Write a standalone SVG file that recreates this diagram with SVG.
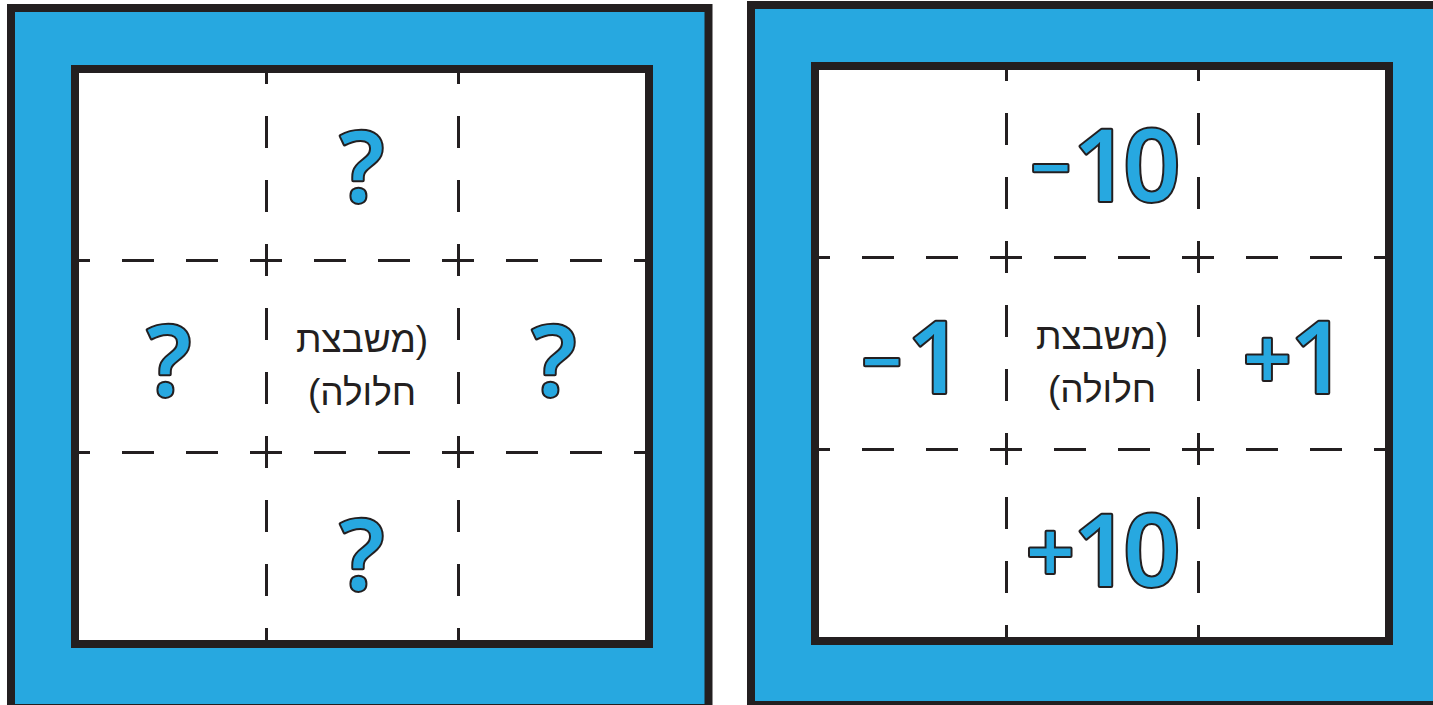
<svg xmlns="http://www.w3.org/2000/svg" width="1433" height="705" viewBox="0 0 1433 705">
<style>
.frame{fill:#27a8e0;stroke:#231f20;stroke-width:8}
.board{fill:none;stroke:#231f20;stroke-width:8}
.dash{stroke:#231f20;stroke-width:3;stroke-dasharray:32 32;stroke-dashoffset:17;fill:none}
.heb{font-family:"Liberation Sans","DejaVu Sans",sans-serif;font-size:37px;fill:#231f20;text-anchor:middle}
.sym{font-family:"Open Sans","Liberation Sans",sans-serif;font-weight:600;font-size:100px;fill:#27a8e0;stroke:#231f20;stroke-width:4;stroke-linejoin:round;paint-order:stroke}
.q{font-size:98px;text-anchor:middle}
</style>
<rect width="1433" height="705" fill="#ffffff"/>
<g id="panel-left">
  <rect class="frame" x="11" y="8" width="697.5" height="700"/>
  <rect x="75" y="69" width="574" height="575" fill="#ffffff"/>
  <g id="grid-left">
    <line class="dash" x1="75" y1="260.5" x2="649" y2="260.5"/>
    <line class="dash" x1="75" y1="452.5" x2="649" y2="452.5"/>
    <line class="dash" x1="266.5" y1="69" x2="266.5" y2="644"/>
    <line class="dash" x1="458.5" y1="69" x2="458.5" y2="644"/>
  </g>
  <rect class="board" x="75" y="69" width="574" height="575"/>
  <g id="left-top"><text class="sym q" x="362" y="202">?</text></g>
  <g id="left-left"><text class="sym q" x="169" y="396">?</text></g>
  <g id="left-right"><text class="sym q" x="554" y="396">?</text></g>
  <g id="left-bottom"><text class="sym q" x="362" y="590">?</text></g>
  <g id="left-center">
    <text class="heb" x="362" y="352" direction="rtl">(משבצת</text>
    <text class="heb" x="362" y="405" direction="rtl">חלולה)</text>
  </g>
</g>
<g id="panel-right">
  <rect class="frame" x="751" y="5" width="697.5" height="700"/>
  <rect x="815" y="66" width="574" height="575" fill="#ffffff"/>
  <g id="grid-right">
    <line class="dash" x1="815" y1="257.5" x2="1389" y2="257.5"/>
    <line class="dash" x1="815" y1="449.5" x2="1389" y2="449.5"/>
    <line class="dash" x1="1006.5" y1="66" x2="1006.5" y2="641"/>
    <line class="dash" x1="1198.5" y1="66" x2="1198.5" y2="641"/>
  </g>
  <rect class="board" x="815" y="66" width="574" height="575"/>
  <g id="right-top"><text class="sym" x="1031" y="201"><tspan font-size="70" dy="-8">−</tspan><tspan x="1073" dy="8" letter-spacing="-7">10</tspan></text></g>
  <g id="right-left"><text class="sym" x="862" y="393"><tspan font-size="70" dy="-6">−</tspan><tspan x="907" dy="6">1</tspan></text></g>
  <g id="right-right"><text class="sym" x="1243" y="393"><tspan font-size="85" dy="-3">+</tspan><tspan x="1290" dy="3">1</tspan></text></g>
  <g id="right-bottom"><text class="sym" x="1026" y="586"><tspan font-size="85" dy="-3">+</tspan><tspan x="1073" dy="3" letter-spacing="-7">10</tspan></text></g>
  <g id="right-center">
    <text class="heb" x="1102" y="349" direction="rtl">(משבצת</text>
    <text class="heb" x="1102" y="402" direction="rtl">חלולה)</text>
  </g>
</g>
</svg>
